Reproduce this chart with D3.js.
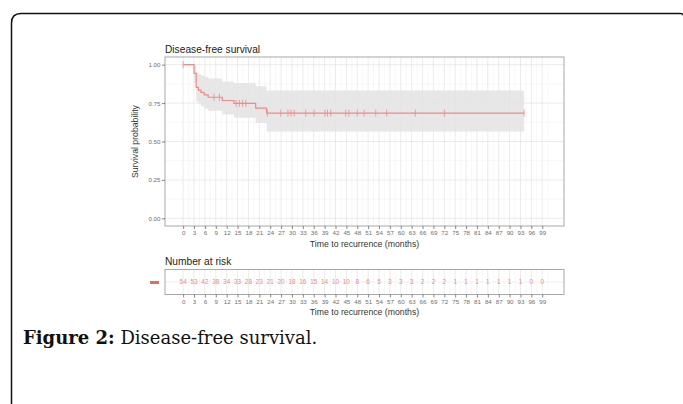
<!DOCTYPE html>
<html>
<head>
<meta charset="utf-8">
<script src="https://cdn.jsdelivr.net/npm/d3@7"></script>
<style>
  body { margin: 0; background: #fff; }
  svg { display: block; }
</style>
</head>
<body>
<svg id="chart" width="683" height="404"></svg>
<script>
// Kaplan-Meier steps
const survTimes = [0, 3.0, 3.6, 4.2, 4.9, 5.8, 6.9, 10.8, 14.0, 20.0, 23.0];
const survProb  = [1, 0.944, 0.852, 0.835, 0.82, 0.803, 0.788, 0.767, 0.748, 0.717, 0.685];
const ciUpper   = [1, 1.0, 0.95, 0.94, 0.93, 0.92, 0.91, 0.89, 0.88, 0.86, 0.832];
const ciLower   = [1, 0.88, 0.76, 0.745, 0.73, 0.715, 0.70, 0.675, 0.655, 0.62, 0.565];
const endTime = 94;
const censorTimes = [0, 8.5, 10, 14.6, 15.5, 16.4, 17.3, 23.2, 26.9, 28.9, 29.7, 30.6, 33.8,
  36.1, 39.1, 39.8, 40.7, 44.8, 45.7, 48.0, 49.9, 53.1, 56.1, 64.0, 72.0, 94];

const xTicks = [0, 3, 6, 9, 12, 15, 18, 21, 24, 27, 30, 33, 36, 39, 42, 45, 48, 51, 54, 57,
  60, 63, 66, 69, 72, 75, 78, 81, 84, 87, 90, 93, 96, 99];
const atRisk = [54, 53, 42, 38, 34, 33, 28, 23, 21, 20, 18, 16, 15, 14, 10, 10, 8, 6, 5, 3,
  3, 3, 2, 2, 2, 1, 1, 1, 1, 1, 1, 1, 0, 0];
const yTicks = [0, 0.25, 0.5, 0.75, 1];

const red = "#ee8a87";
const sans = "Liberation Sans, Arial, sans-serif";
const svg = d3.select("#chart");

// outer figure frame
svg.append("path")
  .attr("d", "M11.5,404 V23 Q11.5,13.5 21,13.5 H680 Q683,13.5 684,16")
  .attr("fill", "none")
  .attr("stroke", "#111")
  .attr("stroke-width", 1.5);

const left = 165, right = 564;
const x = d3.scaleLinear().domain([-5, 105]).range([left, right]);

// ---------- survival panel ----------
const top1 = 57, bot1 = 226;
const y = d3.scaleLinear().domain([-0.05, 1.05]).range([bot1, top1]);

const g1 = svg.append("g");
g1.append("rect").attr("x", left).attr("y", top1)
  .attr("width", right - left).attr("height", bot1 - top1).attr("fill", "#fff");

const minorX = xTicks.map(d => d + 1.5).filter(d => d < 105);
g1.selectAll(".mx").data(minorX).enter().append("line")
  .attr("x1", d => x(d)).attr("x2", d => x(d)).attr("y1", top1).attr("y2", bot1)
  .attr("stroke", "#f3f3f3").attr("stroke-width", 0.6);
g1.selectAll(".my").data([0.125, 0.375, 0.625, 0.875]).enter().append("line")
  .attr("x1", left).attr("x2", right).attr("y1", d => y(d)).attr("y2", d => y(d))
  .attr("stroke", "#f3f3f3").attr("stroke-width", 0.6);
g1.selectAll(".gx").data(xTicks).enter().append("line")
  .attr("x1", d => x(d)).attr("x2", d => x(d)).attr("y1", top1).attr("y2", bot1)
  .attr("stroke", "#e6e6e6").attr("stroke-width", 0.8);
g1.selectAll(".gy").data(yTicks).enter().append("line")
  .attr("x1", left).attr("x2", right).attr("y1", d => y(d)).attr("y2", d => y(d))
  .attr("stroke", "#e6e6e6").attr("stroke-width", 0.8);

// confidence ribbon as a step area
const band = survTimes.map((t, i) => ({t: t, lo: ciLower[i], hi: ciUpper[i]}));
band.push({t: endTime, lo: ciLower[ciLower.length - 1], hi: ciUpper[ciUpper.length - 1]});
g1.append("path")
  .datum(band)
  .attr("fill", "#e3e3e3")
  .attr("opacity", 0.85)
  .attr("d", d3.area().curve(d3.curveStepAfter)
    .x(d => x(d.t)).y0(d => y(d.lo)).y1(d => y(d.hi)));

// survival step line
const steps = survTimes.map((t, i) => ({t: t, s: survProb[i]}));
steps.push({t: endTime, s: survProb[survProb.length - 1]});
g1.append("path")
  .datum(steps)
  .attr("fill", "none")
  .attr("stroke", red)
  .attr("stroke-width", 1.2)
  .attr("d", d3.line().curve(d3.curveStepAfter).x(d => x(d.t)).y(d => y(d.s)));

// censor marks
const survAt = t => survProb[d3.bisectRight(survTimes, t) - 1];
g1.selectAll(".cens").data(censorTimes).enter().append("line")
  .attr("x1", d => x(d)).attr("x2", d => x(d))
  .attr("y1", d => y(survAt(d)) - 3.5).attr("y2", d => y(survAt(d)) + 3.5)
  .attr("stroke", red).attr("stroke-width", 0.8);

g1.append("rect").attr("x", left).attr("y", top1)
  .attr("width", right - left).attr("height", bot1 - top1)
  .attr("fill", "none").attr("stroke", "#a8a8a8").attr("stroke-width", 1);

const yAxis = g1.append("g").attr("transform", `translate(${left},0)`)
  .call(d3.axisLeft(y).tickValues(yTicks).tickFormat(d3.format(".2f")).tickSize(3).tickPadding(1.5));
const xAxis1 = g1.append("g").attr("transform", `translate(0,${bot1})`)
  .call(d3.axisBottom(x).tickValues(xTicks).tickSize(3).tickPadding(2));
[yAxis, xAxis1].forEach(a => {
  a.select(".domain").remove();
  a.selectAll(".tick line").attr("stroke", "#555").attr("stroke-width", 0.7);
  a.selectAll(".tick text").attr("fill", "#6f6f6f")
    .style("font-family", sans).style("font-size", "6.2px");
});

svg.append("text").attr("x", left).attr("y", 53)
  .style("font-family", sans).style("font-size", "10.2px")
  .attr("fill", "#222").text("Disease-free survival");
svg.append("text").attr("x", (left + right) / 2).attr("y", 246.5).attr("text-anchor", "middle")
  .style("font-family", sans).style("font-size", "8.7px")
  .attr("fill", "#333").text("Time to recurrence (months)");
svg.append("text")
  .attr("transform", `translate(138,${(top1 + bot1) / 2}) rotate(-90)`)
  .attr("text-anchor", "middle")
  .style("font-family", sans).style("font-size", "8.7px")
  .attr("fill", "#333").text("Survival probability");

// ---------- risk table ----------
const top2 = 269.5, bot2 = 294.5;
const g2 = svg.append("g");
g2.selectAll(".mx2").data(minorX).enter().append("line")
  .attr("x1", d => x(d)).attr("x2", d => x(d)).attr("y1", top2).attr("y2", bot2)
  .attr("stroke", "#f3f3f3").attr("stroke-width", 0.6);
g2.selectAll(".gx2").data(xTicks).enter().append("line")
  .attr("x1", d => x(d)).attr("x2", d => x(d)).attr("y1", top2).attr("y2", bot2)
  .attr("stroke", "#e6e6e6").attr("stroke-width", 0.8);
g2.append("line").attr("x1", left).attr("x2", right)
  .attr("y1", (top2 + bot2) / 2).attr("y2", (top2 + bot2) / 2)
  .attr("stroke", "#ececec").attr("stroke-width", 0.8);

g2.selectAll(".risk").data(xTicks).enter().append("text")
  .attr("x", d => x(d)).attr("y", (top2 + bot2) / 2 + 2.2)
  .attr("text-anchor", "middle")
  .style("font-family", sans).style("font-size", "6.4px")
  .attr("fill", red)
  .text((d, i) => atRisk[i]);

g2.append("rect").attr("x", left).attr("y", top2)
  .attr("width", right - left).attr("height", bot2 - top2)
  .attr("fill", "none").attr("stroke", "#a8a8a8").attr("stroke-width", 1);

const xAxis2 = g2.append("g").attr("transform", `translate(0,${bot2})`)
  .call(d3.axisBottom(x).tickValues(xTicks).tickSize(3).tickPadding(2));
xAxis2.select(".domain").remove();
xAxis2.selectAll(".tick line").attr("stroke", "#555").attr("stroke-width", 0.7);
xAxis2.selectAll(".tick text").attr("fill", "#6f6f6f")
  .style("font-family", sans).style("font-size", "6.2px");

// strata legend swatch
g2.append("line").attr("x1", 150).attr("x2", 159)
  .attr("y1", (top2 + bot2) / 2 + 0.5).attr("y2", (top2 + bot2) / 2 + 0.5)
  .attr("stroke", "#e86a66").attr("stroke-width", 3);

svg.append("text").attr("x", left).attr("y", 265)
  .style("font-family", sans).style("font-size", "10.2px")
  .attr("fill", "#222").text("Number at risk");
svg.append("text").attr("x", (left + right) / 2).attr("y", 314.5).attr("text-anchor", "middle")
  .style("font-family", sans).style("font-size", "8.7px")
  .attr("fill", "#333").text("Time to recurrence (months)");

// ---------- caption ----------
const cap = svg.append("text").attr("x", 23).attr("y", 343.5)
  .style("font-family", "DejaVu Serif, serif").style("font-size", "18px").attr("fill", "#111");
cap.append("tspan").style("font-weight", "bold").text("Figure 2:");
cap.append("tspan").text(" Disease-free survival.");
</script>
</body>
</html>
